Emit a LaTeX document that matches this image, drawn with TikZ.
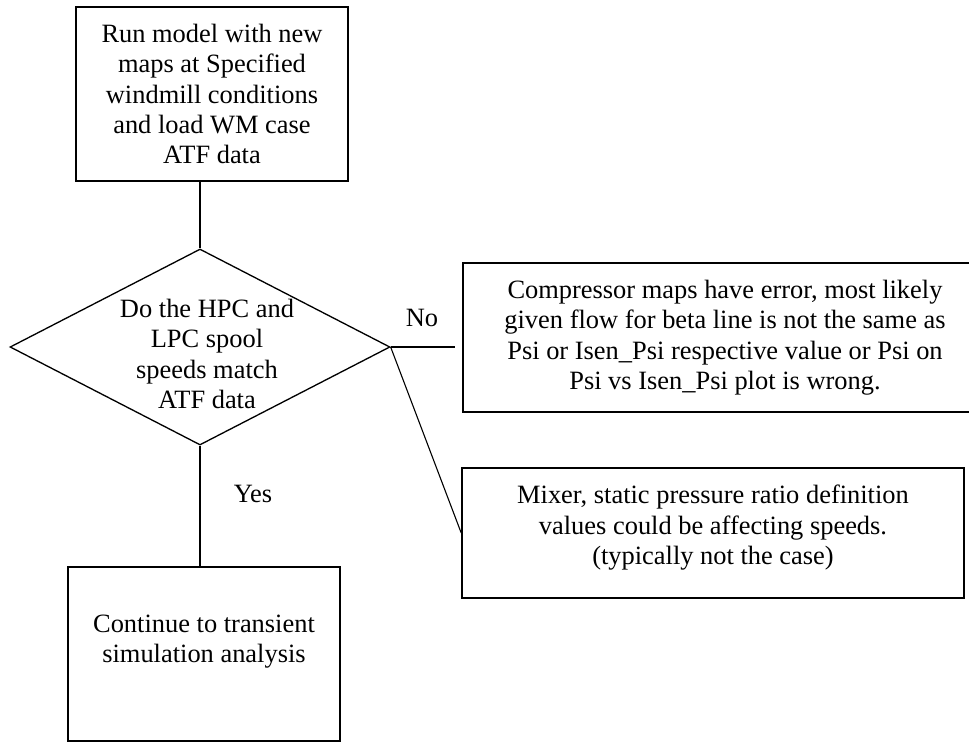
\documentclass[tikz,border=0pt]{standalone}
\usepackage{fontspec}
\setmainfont{Liberation Serif}
\usepackage{tikz}
\usetikzlibrary{shapes.geometric}

\begin{document}
\begin{tikzpicture}[x=0.454pt,y=-0.454pt,
        font=\fontsize{12pt}{13.8pt}\selectfont,
        box/.style={draw, line width=0.6pt, rectangle, align=center, inner sep=2pt},
        decision/.style={draw, line width=0.6pt, diamond, inner sep=0pt, minimum width=172.5pt, minimum height=89pt},
        link/.style={line width=0.5pt}]
        \useasboundingbox (0,0) rectangle (969,743);

            \node[box, minimum width=238pt, minimum height=67.6pt] (maperror) at (725,337.5)
                {Compressor maps have error, most likely\\given flow for beta line is not the same as\\Psi or Isen\_Psi respective value or Psi on\\Psi vs Isen\_Psi plot is wrong.};
            \node[box, minimum width=123.5pt, minimum height=79pt] (run) at (212,94)
                {Run model with new\\maps at Specified\\windmill conditions\\and load WM case\\ATF data};
            \node[decision] (match) at (200,347) {};
            \node[align=center] (question) at (207,354)
                {Do the HPC and\\LPC spool\\speeds match\\ATF data};
            \node[box, minimum width=228pt, minimum height=59pt] (mixer) at (713,533)
                {Mixer, static pressure ratio definition\\values could be affecting speeds.\\(typically not the case)\\[-6.5pt]\mbox{}};
            \node[box, minimum width=123.5pt, minimum height=79pt] (transient) at (204,654)
                {Continue to transient\\simulation analysis\\\mbox{}};
            \node (no) at (422,318) {No};
            \node (yes) at (253,494) {Yes};

            \draw[link] (run.south -| match.north) -- (match.north);
            \draw[link] (match.south) -- (match.south |- transient.north);
            \draw[link, shorten >=3.2pt] (match.east) -- (match.east -| maperror.west);
            \draw[link] (match.east) -- (mixer.west);
\end{tikzpicture}
\end{document}
